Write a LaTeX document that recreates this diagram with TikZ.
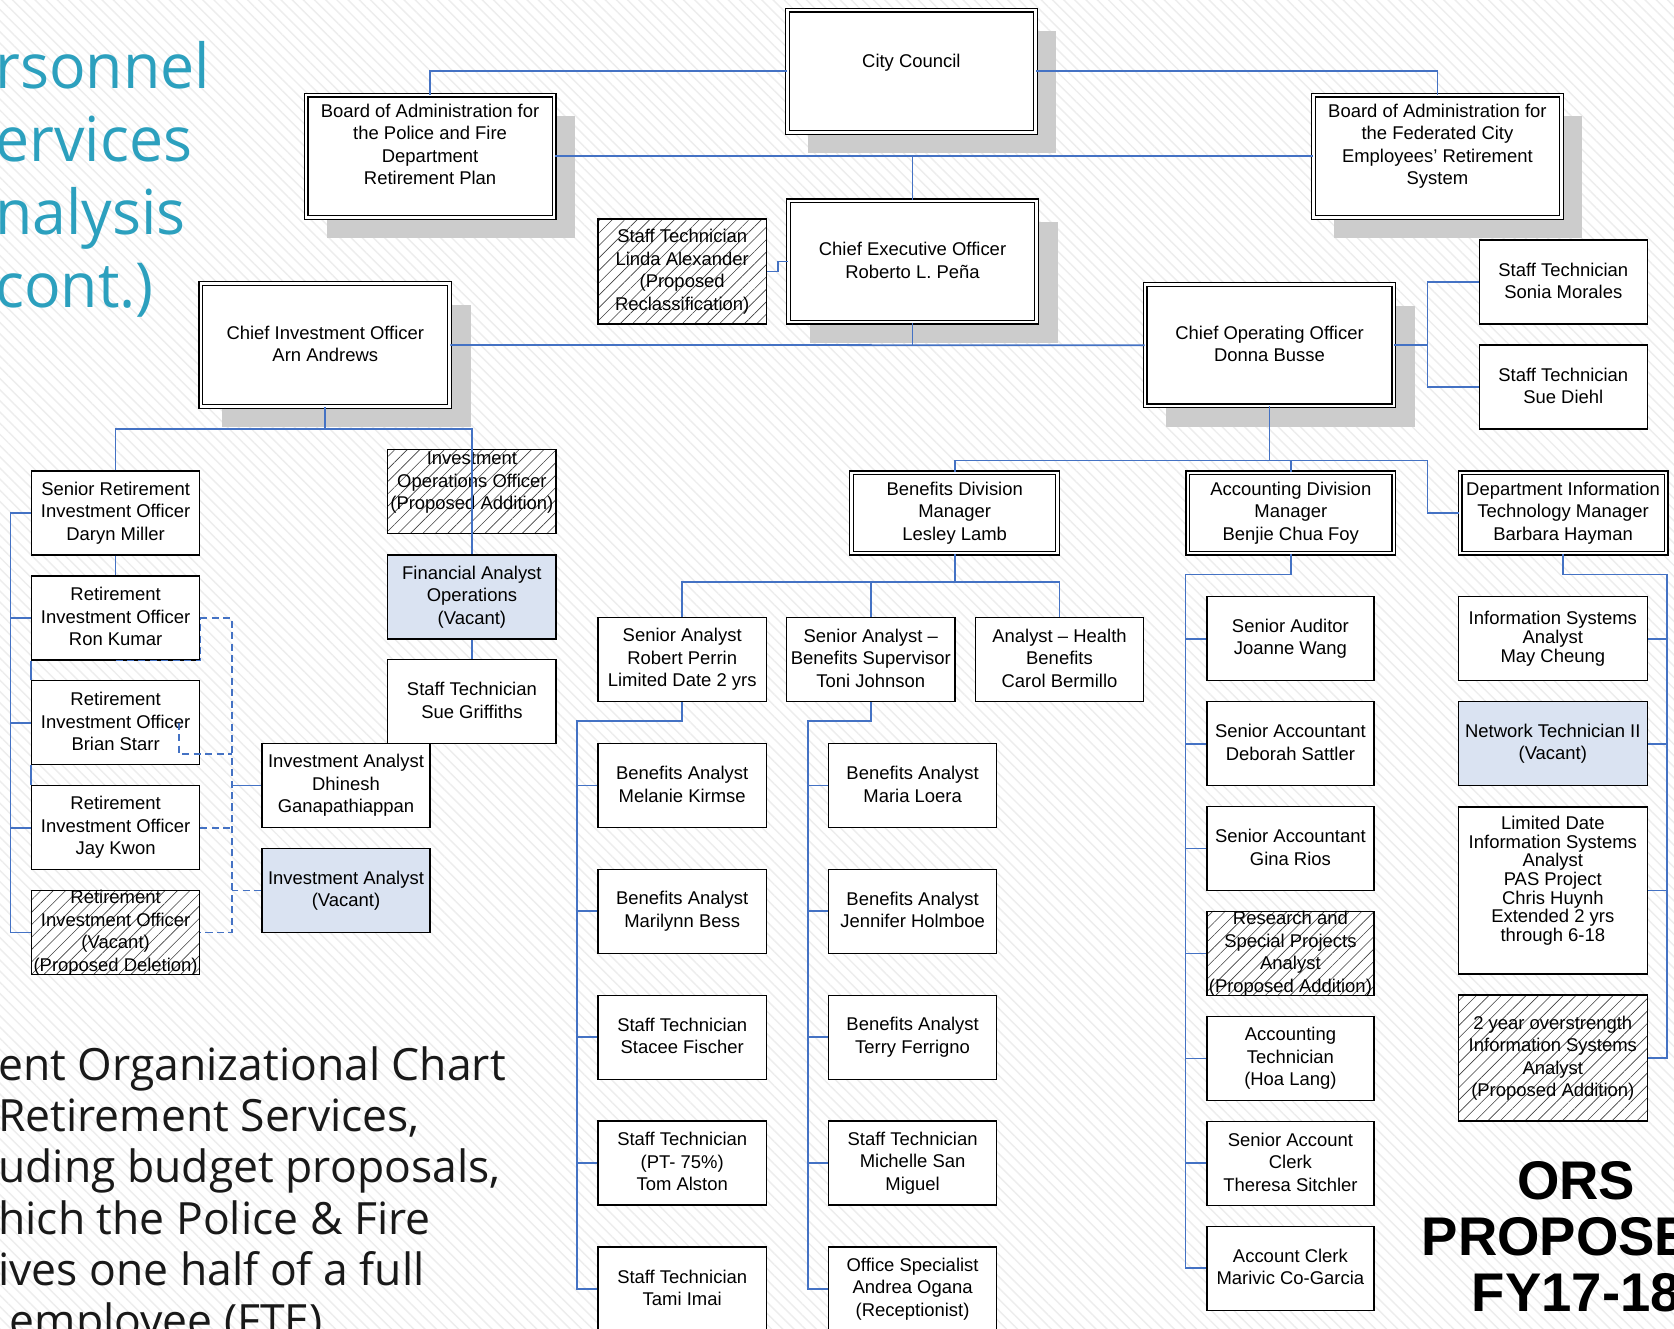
\documentclass[tikz,border=0pt]{standalone}
\usepackage{fontspec}
\setmainfont{Liberation Sans}
\newfontfamily\titlefont[FakeStretch=0.98]{Open Sans}
\newfontfamily\notefont{Open Sans}
\usepackage{tikz}
\usetikzlibrary{shadows, patterns.meta}
\definecolor{linkblue}{RGB}{68,114,196}
\definecolor{vacantblue}{RGB}{218,227,242}
\definecolor{titleteal}{RGB}{44,160,190}
\definecolor{stripe}{RGB}{237,237,237}
\newcommand{\boxfont}{\fontsize{10.5pt}{12.8pt}\selectfont}
\tikzset{
	lift/.style={execute at end node={\rule[-#1]{0pt}{#1}}}, % pushes the text up in its box
	box/.style 2 args={draw, fill=white, line width=0.75pt, minimum width=#1*0.02cm, minimum height=#2*0.02cm, inner xsep=0pt, inner ysep=-20pt, align=center, font=\boxfont, lift=1.5pt}, % one position, size in px
	head/.style={double, double distance=1.4pt}, % double frame
	raised/.style={drop shadow={shadow xshift=0.42cm, shadow yshift=-0.42cm, fill=black!20, opacity=1}}, % grey shadow
	vacant/.style={fill=vacantblue}, % vacant position
	proposed/.style={preaction={fill=white}, pattern={Lines[angle=45, distance=5pt, line width=0.35pt]}, pattern color=black!75}, % proposed change
	link/.style={draw=linkblue, line width=1pt}, % reporting line
	dashlink/.style={link, dash pattern=on 4pt off 2.5pt}, % indirect reporting line
}

\begin{document}
\begin{tikzpicture}[x=0.02cm, y=-0.02cm]
	\useasboundingbox (0,0) rectangle (1674,1329);
	\clip (0,0) rectangle (1674,1329);
	\fill[white] (0,0) rectangle (1674,1329);
	\fill[pattern={Lines[angle=-45, distance=4.5pt, line width=0.8pt]}, pattern color=stripe] (0,0) rectangle (1674,1329);

	% slide texts
	\node[anchor=north west, inner sep=0pt, align=left, text=titleteal, font=\titlefont\fontsize{35.3pt}{41.5pt}\selectfont] (heading) at (-5,41.2) {rsonnel\\ervices\\nalysis\\cont.)};
	\node[anchor=north west, inner sep=0pt, align=left, text=black!90, font=\notefont\fontsize{25.3pt}{29.1pt}\selectfont] (caption) at (-2,1046.5) {ent Organizational Chart\\Retirement Services,\\uding budget proposals,\\hich the Police \& Fire\\ives one half of a full\\\hspace*{6.5pt}employee (FTE)};
	\node[anchor=north west, inner sep=0pt, align=left, font=\bfseries\fontsize{31pt}{31.8pt}\selectfont] (ors) at (1421.5,1161.1) {\hspace*{54.3pt}ORS\\PROPOSE\\\hspace*{28.5pt}FY17-18};

	% top of the chart
	\node[box={248}{122.2}, head, raised, lift=12.3pt] (cc) at (911.4,71.3) {City Council};
	\node[box={248}{122.2}, head, raised, lift=13.6pt] (bpf) at (430.1,156.3) {Board of Administration for\\the Police and Fire\\Department\\Retirement Plan};
	\node[box={248}{122.2}, head, raised, lift=13.6pt] (bfed) at (1437.4,156.3) {Board of Administration for\\the Federated City\\Employees’ Retirement\\System};
	\node[box={248}{121.2}, head, raised] (ceo) at (912.5,261.5) {Chief Executive Officer\\Roberto L. Peña};
	\node[box={168.4}{105}, proposed] (linda) at (682.2,271.5) {Staff Technician\\Linda Alexander\\(Proposed\\Reclassification)};
	\node[box={248.8}{122.8}, head, raised] (cio) at (325.3,345) {Chief Investment Officer\\Arn Andrews};
	\node[box={248.6}{121.2}, head, raised] (coo) at (1269.5,345.2) {Chief Operating Officer\\Donna Busse};
	\node[box={168}{84}] (sonia) at (1563.3,282) {Staff Technician\\Sonia Morales};
	\node[box={168}{84}] (suediehl) at (1563.3,387) {Staff Technician\\Sue Diehl};

	% investments
	\node[box={168.4}{84}] (daryn) at (115.6,513) {Senior Retirement\\Investment Officer\\Daryn Miller};
	\node[box={168.4}{84}] (ron) at (115.6,617.9) {Retirement\\Investment Officer\\Ron Kumar};
	\node[box={168.4}{84}] (brian) at (115.6,722.8) {Retirement\\Investment Officer\\Brian Starr};
	\node[box={168.4}{84}] (jay) at (115.6,827.7) {Retirement\\Investment Officer\\Jay Kwon};
	\node[box={168.4}{84}, proposed] (rio) at (115.6,932.6) {Retirement\\Investment Officer\\(Vacant)\\(Proposed Deletion)};
	\node[box={168.3}{84}, proposed, lift=12.4pt] (invops) at (471.9,491.6) {Investment\\Operations Officer\\(Proposed Addition)};
	\node[box={168.3}{84}, vacant] (finops) at (471.9,597) {Financial Analyst\\Operations\\(Vacant)};
	\node[box={168.3}{84}] (griffiths) at (471.9,701.4) {Staff Technician\\Sue Griffiths};
	\node[box={168.3}{83.5}] (dhinesh) at (346,785.4) {Investment Analyst\\Dhinesh\\Ganapathiappan};
	\node[box={168.3}{84}, vacant] (ia) at (346,890.6) {Investment Analyst\\(Vacant)};

	% benefits
	\node[box={206}{80.2}, head] (ben) at (954.7,513) {Benefits Division\\Manager\\Lesley Lamb};
	\node[box={168.4}{84}] (perrin) at (682.2,659.5) {Senior Analyst\\Robert Perrin\\Limited Date 2 yrs};
	\node[box={168.4}{84}] (toni) at (870.8,659.5) {Senior Analyst –\\Benefits Supervisor\\Toni Johnson};
	\node[box={168.4}{84}] (carol) at (1059.5,659.5) {Analyst – Health\\Benefits\\Carol Bermillo};
	\node[box={168.4}{84}] (melanie) at (682.2,785.4) {Benefits Analyst\\Melanie Kirmse};
	\node[box={168.4}{84}] (marilynn) at (682.2,911.3) {Benefits Analyst\\Marilynn Bess};
	\node[box={168.4}{84}] (stacee) at (682.2,1037.2) {Staff Technician\\Stacee Fischer};
	\node[box={168.4}{84}] (tom) at (682.2,1163.1) {Staff Technician\\(PT- 75\%)\\Tom Alston};
	\node[box={168.4}{84}] (tami) at (682.2,1289) {Staff Technician\\Tami Imai};
	\node[box={167.7}{84}] (maria) at (912.6,785.4) {Benefits Analyst\\Maria Loera};
	\node[box={167.7}{84}] (jennifer) at (912.6,911.3) {Benefits Analyst\\Jennifer Holmboe};
	\node[box={167.7}{84}] (terry) at (912.6,1037.2) {Benefits Analyst\\Terry Ferrigno};
	\node[box={167.7}{84}] (michelle) at (912.6,1163.1) {Staff Technician\\Michelle San\\Miguel};
	\node[box={167.7}{84}] (office) at (912.6,1289) {Office Specialist\\Andrea Ogana\\(Receptionist)};

	% accounting
	\node[box={206}{80.2}, head] (acc) at (1290.8,513) {Accounting Division\\Manager\\Benjie Chua Foy};
	\node[box={167.1}{84}] (auditor) at (1290.4,638.8) {Senior Auditor\\Joanne Wang};
	\node[box={167.1}{84}] (deborah) at (1290.4,743.7) {Senior Accountant\\Deborah Sattler};
	\node[box={167.1}{84}] (gina) at (1290.4,848.6) {Senior Accountant\\Gina Rios};
	\node[box={167.1}{84}, proposed] (research) at (1290.4,953.5) {Research and\\Special Projects\\Analyst\\(Proposed Addition)};
	\node[box={167.1}{84}] (hoatech) at (1290.4,1058.4) {Accounting\\Technician\\(Hoa Lang)};
	\node[box={167.1}{84}] (theresa) at (1290.4,1163.3) {Senior Account\\Clerk\\Theresa Sitchler};
	\node[box={167.1}{84}] (clerk) at (1290.4,1268.2) {Account Clerk\\Marivic Co-Garcia};

	% information technology
	\node[box={206}{80.2}, head] (dit) at (1563.1,513) {Department Information\\Technology Manager\\Barbara Hayman};
	\node[box={189.1}{84}, font=\fontsize{10.5pt}{10.6pt}\selectfont, lift=1.8pt] (may) at (1552.8,638.8) {Information Systems\\Analyst\\May Cheung};
	\node[box={189.1}{84}, vacant] (net) at (1552.8,743.7) {Network Technician II\\(Vacant)};
	\node[box={189.1}{167.1}, font=\fontsize{10.5pt}{10.6pt}\selectfont, lift=13.1pt] (ltd) at (1552.8,890.4) {Limited Date\\Information Systems\\Analyst\\PAS Project\\Chris Huynh\\Extended 2 yrs\\through 6-18};
	\node[box={189.1}{126}, proposed] (over) at (1552.8,1058) {2 year overstrength\\Information Systems\\Analyst\\(Proposed Addition)};

	% reporting lines at the top
	\draw[link] (cc.west) -| (bpf.north);
	\draw[link] (cc.east) -| (bfed.north);
	\draw[link] (bpf.east) -- (bfed.west);
	\draw[link] (ceo.north) -- (ceo.north |- bpf.east);
	\draw[link] (linda.east) -- ++(11,0) |- (ceo.west);
	\draw[link] (cio.east) -- (coo.west);
	\draw[link] (ceo.south) -- (ceo.south |- cio.east);
	\draw[link] (coo.east) -- ++(33,0) coordinate (cbend) |- (sonia.west);
	\draw[link] (cbend) |- (suediehl.west);

	% reporting lines of investments
	\draw[link] (cio.south) -- (cio.south |- 0,429) coordinate (ibus);
	\draw[link] (daryn.north) |- (ibus) -| (finops.north);
	\draw[link] (daryn.south) -- (ron.north);
	\draw[link] (daryn.west) -- ++(-20.3,0) |- (rio.west);
	\foreach \n in {ron, brian, jay}
		\draw[link] (\n.west) -- ++(-20.3,0);
	\draw[link] (ron.south west) -- (brian.north west) (brian.south west) -- (jay.north west);
	\draw[link] (finops.south) -- (griffiths.north);
	\draw[dashlink] (ron.east) -- ++(31.4,0) coordinate (dbus) |- (rio.east);
	\draw[dashlink] (ron.south) -| (ron.east);
	\draw[dashlink] ([xshift=-0.422cm]brian.east) -- ++(0,31.3) -- ++(52.5,0);
	\draw[dashlink] (jay.east) -- (jay.east -| dbus);
	\draw[link] (dhinesh.west) -- (dhinesh.west -| dbus);
	\draw[dashlink] (ia.west) -- (ia.west -| dbus);

	% reporting lines of operations
	\draw[link] (coo.south) -- (coo.south |- 0,460.4) coordinate (obus);
	\draw[link] (ben.north) |- (obus) -| (cbend |- dit.west) -- (dit.west);
	\draw[link] (acc.north) -- (acc.north |- obus);
	\draw[link] (ben.south) -- (ben.south |- 0,581.8) coordinate (bbus);
	\draw[link] (perrin.north) |- (bbus) -| (carol.north);
	\draw[link] (toni.north) -- (toni.north |- bbus);
	\draw[link] (tami.west) -- ++(-20.3,0) |- (perrin.south |- 0,721) -- (perrin.south);
	\foreach \n in {melanie, marilynn, stacee, tom}
		\draw[link] (\n.west) -- ++(-20.3,0);
	\draw[link] (office.west) -- ++(-19.8,0) |- (toni.south |- 0,721) -- (toni.south);
	\foreach \n in {maria, jennifer, terry, michelle}
		\draw[link] (\n.west) -- ++(-19.8,0);
	\draw[link] (clerk.west) -- ++(-20.7,0) |- (acc.south |- 0,574.6) -- (acc.south);
	\foreach \n in {auditor, deborah, gina, research, hoatech, theresa}
		\draw[link] (\n.west) -- ++(-20.7,0);
	\draw[link] (over.east) -- ++(19.1,0) |- (dit.south |- 0,574.6) -- (dit.south);
	\foreach \n in {may, net, ltd}
		\draw[link] (\n.east) -- ++(19.1,0);
\end{tikzpicture}
\end{document}
